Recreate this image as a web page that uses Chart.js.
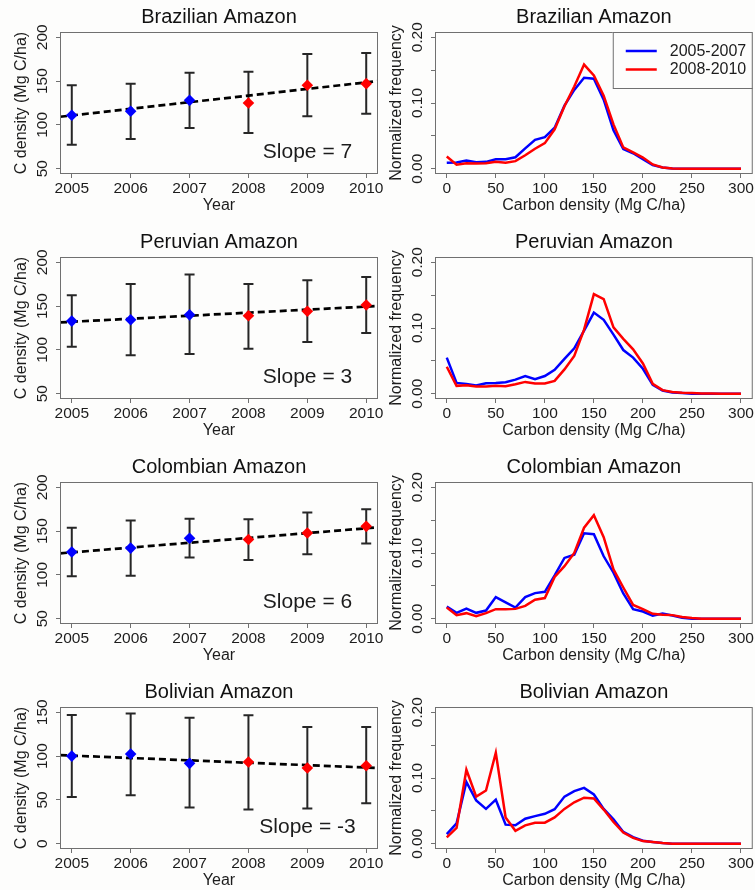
<!DOCTYPE html>
<html>
<head>
<meta charset="utf-8">
<title>Amazon carbon density</title>
<script src="https://cdn.jsdelivr.net/npm/chart.js@4.4.1/dist/chart.umd.min.js"></script>
<style>
  html, body { margin: 0; padding: 0; background: #fdfdfc; overflow: hidden; }
  body { width: 755px; height: 890px; position: relative; }
  canvas { position: absolute; }
</style>
</head>
<body>
<canvas id="brazilYears" width="395" height="225" style="left:0;top:0"></canvas>
<canvas id="brazilFreq" width="380" height="225" style="left:375px;top:0"></canvas>
<canvas id="peruYears" width="395" height="225" style="left:0;top:225px"></canvas>
<canvas id="peruFreq" width="380" height="225" style="left:375px;top:225px"></canvas>
<canvas id="colombiaYears" width="395" height="225" style="left:0;top:450px"></canvas>
<canvas id="colombiaFreq" width="380" height="225" style="left:375px;top:450px"></canvas>
<canvas id="boliviaYears" width="395" height="225" style="left:0;top:675px"></canvas>
<canvas id="boliviaFreq" width="380" height="225" style="left:375px;top:675px"></canvas>
<script>
// ---- data ----
const years = [2005, 2006, 2007, 2008, 2009, 2010];
const trendYears = [2004.8, 2010.2];
const densityTicks = [50, 100, 150, 200];
const boliviaDensityTicks = [0, 50, 100, 150];
const densityBins = [0, 10, 20, 30, 40, 50, 60, 70, 80, 90, 100, 110, 120, 130, 140, 150,
  160, 170, 180, 190, 200, 210, 220, 230, 240, 250, 260, 270, 280, 290, 300];
const binTicks = [0, 50, 100, 150, 200, 250, 300];
const freqTicks = [0, 0.05, 0.1, 0.15, 0.2];
const freqLabelled = [0, 0.1, 0.2];
const periodLabels = ["2005-2007", "2008-2010"];

const brazilMean = [111, 115.6, 128, 125, 145.3, 147.1];
const brazilLow = [77.4, 84, 96.5, 90.9, 110, 112.6];
const brazilHigh = [145.3, 147.1, 159.5, 160.6, 180.9, 182];
const brazilTrend = [109.3, 150.1];

const peruMean = [132.9, 134.4, 140, 138.9, 144.1, 151.3];
const peruLow = [103.6, 93.9, 95.4, 101.4, 108.9, 119.4];
const peruHigh = [162.5, 175.3, 186.1, 175.3, 179.4, 183.1];
const peruTrend = [131.4, 150.1];

const colombiaMean = [126.1, 130.6, 141.9, 140.4, 147.9, 155.4];
const colombiaLow = [98.4, 99.1, 119.8, 117.1, 123.5, 135.9];
const colombiaHigh = [153.9, 162.1, 164, 163.6, 171.1, 174.9];
const colombiaTrend = [124.6, 154.3];

const boliviaMean = [100, 102.3, 91.7, 93.2, 86.4, 89];
const boliviaLow = [53.4, 55.3, 41.3, 39, 40.2, 46.2];
const boliviaHigh = [147, 148.5, 143.6, 146.6, 133.3, 133.3];
const boliviaTrend = [101.1, 86.4];

const brazil0507 = [0.009, 0.0095, 0.0125, 0.01, 0.0105, 0.0145, 0.0145, 0.0175, 0.031, 0.044, 0.048,
  0.0625, 0.096, 0.12, 0.1385, 0.137, 0.105, 0.0585, 0.03, 0.0235, 0.0145, 0.0055, 0.002, 0.0005,
  0, 0, 0, 0, 0, 0, 0];
const brazil0810 = [0.0185, 0.006, 0.0085, 0.008, 0.0085, 0.0105, 0.009, 0.0115, 0.0205, 0.0305, 0.039,
  0.06, 0.095, 0.125, 0.1585, 0.142, 0.111, 0.0675, 0.0325, 0.025, 0.017, 0.0065, 0.002, 0.0005,
  0, 0, 0, 0, 0, 0, 0];
const peru0507 = [0.055, 0.0165, 0.015, 0.0125, 0.016, 0.0165, 0.0175, 0.0215, 0.027, 0.022, 0.027,
  0.0365, 0.053, 0.069, 0.096, 0.1235, 0.1125, 0.09, 0.0665, 0.055, 0.038, 0.0135, 0.005, 0.002, 0.001,
  0, 0, 0, 0, 0, 0];
const peru0810 = [0.041, 0.012, 0.013, 0.011, 0.011, 0.012, 0.0115, 0.0145, 0.018, 0.0155, 0.0155,
  0.0195, 0.037, 0.0575, 0.0975, 0.1515, 0.144, 0.101, 0.0835, 0.0675, 0.046, 0.015, 0.0055, 0.0025,
  0.0015, 0.001, 0.0005, 0.0005, 0, 0, 0];
const colombia0507 = [0.0185, 0.009, 0.0155, 0.009, 0.0125, 0.033, 0.025, 0.017, 0.033, 0.039, 0.041,
  0.066, 0.0925, 0.0975, 0.13, 0.1285, 0.095, 0.07, 0.0385, 0.0145, 0.011, 0.0045, 0.008, 0.005, 0.0015,
  0, 0, 0, 0, 0, 0];
const colombia0810 = [0.017, 0.0055, 0.0085, 0.004, 0.0085, 0.0145, 0.0145, 0.015, 0.0195, 0.029, 0.0315,
  0.0635, 0.08, 0.1, 0.1385, 0.1575, 0.124, 0.075, 0.0475, 0.021, 0.0145, 0.0075, 0.006, 0.0055, 0.0025,
  0.001, 0, 0, 0, 0, 0];
const bolivia0507 = [0.0146, 0.031, 0.094, 0.066, 0.053, 0.067, 0.029, 0.028, 0.038, 0.042, 0.0455,
  0.0525, 0.0717, 0.08, 0.085, 0.075, 0.053, 0.037, 0.018, 0.01, 0.0045, 0.0025, 0.001,
  0, 0, 0, 0, 0, 0, 0, 0];
const bolivia0810 = [0.0096, 0.024, 0.1126, 0.0717, 0.081, 0.1384, 0.04, 0.0197, 0.028, 0.032, 0.032,
  0.04, 0.053, 0.063, 0.07, 0.069, 0.052, 0.033, 0.017, 0.009, 0.004, 0.0025, 0.001,
  0, 0, 0, 0, 0, 0, 0, 0];

// ---- styling ----
const FONT = "'Liberation Sans', Arial, Helvetica, sans-serif";
const textColor = '#1c1c1c';
const frameColor = '#707070';
const blue = '#0000ff';
const red = '#ff0000';

Chart.defaults.font.family = FONT;
Chart.defaults.color = textColor;

// R pads the axis range by 4% on each side
function rLimits(ticks) {
  const lo = ticks[0], hi = ticks[ticks.length - 1], ext = 0.04 * (hi - lo);
  return [lo - ext, hi + ext];
}

const framePlugin = {
  id: 'frame',
  afterDraw(chart) {
    const {ctx, chartArea: a} = chart;
    ctx.save();
    ctx.strokeStyle = frameColor;
    ctx.lineWidth = 1;
    ctx.strokeRect(a.left + 0.5, a.top + 0.5, a.right - a.left - 1, a.bottom - a.top - 1);
    ctx.restore();
  }
};

function errorBars(low, high) {
  return {
    id: 'errorBars',
    beforeDatasetsDraw(chart) {
      const {ctx, scales: {x, y}} = chart;
      ctx.save();
      ctx.strokeStyle = '#262626';
      ctx.lineWidth = 2;
      years.forEach((yr, i) => {
        const px = x.getPixelForValue(yr);
        const top = y.getPixelForValue(high[i]);
        const bot = y.getPixelForValue(low[i]);
        ctx.beginPath();
        ctx.moveTo(px, top); ctx.lineTo(px, bot);
        ctx.moveTo(px - 5, top); ctx.lineTo(px + 5, top);
        ctx.moveTo(px - 5, bot); ctx.lineTo(px + 5, bot);
        ctx.stroke();
      });
      ctx.restore();
    }
  };
}

function slopeNote(text) {
  return {
    id: 'slopeNote',
    afterDatasetsDraw(chart) {
      const {ctx, chartArea: a} = chart;
      ctx.save();
      ctx.font = '21px ' + FONT;
      ctx.fillStyle = textColor;
      ctx.textAlign = 'center';
      ctx.textBaseline = 'alphabetic';
      ctx.fillText(text, a.left + 247.5, a.top + 126);
      ctx.restore();
    }
  };
}

const boxLegend = {
  id: 'boxLegend',
  afterDraw(chart) {
    const {ctx, chartArea: a} = chart;
    const left = a.right - 140, top = a.top;
    ctx.save();
    ctx.fillStyle = '#fdfdfc';
    ctx.fillRect(left, top, 140, 56);
    ctx.strokeStyle = frameColor;
    ctx.lineWidth = 1;
    ctx.strokeRect(left + 0.5, top + 0.5, 139, 56);
    ctx.font = '16px ' + FONT;
    ctx.textBaseline = 'middle';
    ctx.fillStyle = textColor;
    periodLabels.forEach((lab, i) => {
      const ds = chart.data.datasets.find(d => d.label === lab);
      const ly = top + 19 + i * 18.5;
      ctx.strokeStyle = ds.borderColor;
      ctx.lineWidth = 2.5;
      ctx.beginPath();
      ctx.moveTo(left + 13, ly); ctx.lineTo(left + 44, ly);
      ctx.stroke();
      ctx.fillText(lab, left + 57, ly + 0.5);
    });
    ctx.restore();
  }
};

function xAxis(limits, tickValues, title, fmt) {
  return {
    type: 'linear', position: 'bottom', min: limits[0], max: limits[1],
    afterBuildTicks: s => { s.ticks = tickValues.map(v => ({value: v})); },
    afterFit: s => { s.height = 51; },
    grid: {drawOnChartArea: false, drawTicks: true, tickLength: 4, color: frameColor, lineWidth: 1},
    border: {display: false},
    ticks: {autoSkip: false, minRotation: 0, maxRotation: 0, padding: 1, font: {size: 15.5}, color: textColor, callback: fmt},
    title: {display: true, text: title, font: {size: 16}, color: textColor, padding: {top: 0, bottom: 10}}
  };
}

function yAxis(limits, tickValues, title, fmt, pad) {
  return {
    type: 'linear', position: 'left', min: limits[0], max: limits[1],
    afterBuildTicks: s => { s.ticks = tickValues.map(v => ({value: v})); },
    afterFit: s => { s.width = 60; },
    grid: {drawOnChartArea: false, drawTicks: true, tickLength: 4, color: frameColor, lineWidth: 1},
    border: {display: false},
    ticks: {autoSkip: false, minRotation: 90, maxRotation: 90, crossAlign: 'center', padding: pad,
      font: {size: 15.5}, color: textColor, callback: fmt},
    title: {display: true, text: title, font: {size: 16}, color: textColor, padding: {top: 12, bottom: 0}}
  };
}

function baseOptions(title, rightPad) {
  return {
    responsive: false,
    animation: false,
    devicePixelRatio: 1,
    layout: {padding: {left: 0, right: rightPad, top: 0, bottom: 0}},
    plugins: {
      legend: {display: false},
      tooltip: {enabled: false},
      title: {display: true, text: title, fullSize: false, color: '#111',
        font: {size: 20, weight: 'normal'}, padding: {top: 5, bottom: 3}}
    }
  };
}

function yearChart(id, title, mean, low, high, trend, yTicks, slope) {
  const opts = baseOptions(title, 17);
  opts.scales = {
    x: xAxis(rLimits(years), years, 'Year', v => String(v)),
    y: yAxis(rLimits(yTicks), yTicks, 'C density (Mg C/ha)', v => String(v), 0)
  };
  return new Chart(document.getElementById(id), {
    type: 'scatter',
    data: {
      datasets: [
        {
          data: years.map((yr, i) => ({x: yr, y: mean[i]})),
          pointStyle: 'rectRot',
          pointRadius: 5.8,
          pointBorderWidth: 0,
          pointBackgroundColor: years.map(yr => yr <= 2007 ? blue : red),
          order: 0
        },
        {
          data: trendYears.map((yr, i) => ({x: yr, y: trend[i]})),
          showLine: true,
          borderColor: '#000',
          borderWidth: 2.7,
          borderDash: [7, 4],
          pointRadius: 0,
          order: 1
        }
      ]
    },
    options: opts,
    plugins: [errorBars(low, high), slopeNote(slope), framePlugin]
  });
}

function freqChart(id, title, early, late, withLegend) {
  const opts = baseOptions(title, 2);
  const labelled = v => freqLabelled.some(t => Math.abs(t - v) < 1e-9) ? v.toFixed(2) : '';
  opts.scales = {
    x: xAxis(rLimits(densityBins), binTicks, 'Carbon density (Mg C/ha)', v => String(v)),
    y: yAxis(rLimits(freqTicks), freqTicks, 'Normalized frequency', labelled, -2)
  };
  const plugins = [framePlugin];
  if (withLegend) plugins.push(boxLegend);
  return new Chart(document.getElementById(id), {
    type: 'line',
    data: {
      datasets: [
        {label: periodLabels[0], data: densityBins.map((b, i) => ({x: b, y: early[i]})),
          borderColor: blue, borderWidth: 2.5, pointRadius: 0, tension: 0, order: 1},
        {label: periodLabels[1], data: densityBins.map((b, i) => ({x: b, y: late[i]})),
          borderColor: red, borderWidth: 2.5, pointRadius: 0, tension: 0, order: 0}
      ]
    },
    options: opts,
    plugins
  });
}

yearChart('brazilYears', 'Brazilian Amazon', brazilMean, brazilLow, brazilHigh, brazilTrend, densityTicks, 'Slope = 7');
freqChart('brazilFreq', 'Brazilian Amazon', brazil0507, brazil0810, true);
yearChart('peruYears', 'Peruvian Amazon', peruMean, peruLow, peruHigh, peruTrend, densityTicks, 'Slope = 3');
freqChart('peruFreq', 'Peruvian Amazon', peru0507, peru0810, false);
yearChart('colombiaYears', 'Colombian Amazon', colombiaMean, colombiaLow, colombiaHigh, colombiaTrend, densityTicks, 'Slope = 6');
freqChart('colombiaFreq', 'Colombian Amazon', colombia0507, colombia0810, false);
yearChart('boliviaYears', 'Bolivian Amazon', boliviaMean, boliviaLow, boliviaHigh, boliviaTrend, boliviaDensityTicks, 'Slope = -3');
freqChart('boliviaFreq', 'Bolivian Amazon', bolivia0507, bolivia0810, false);
</script>
</body>
</html>
